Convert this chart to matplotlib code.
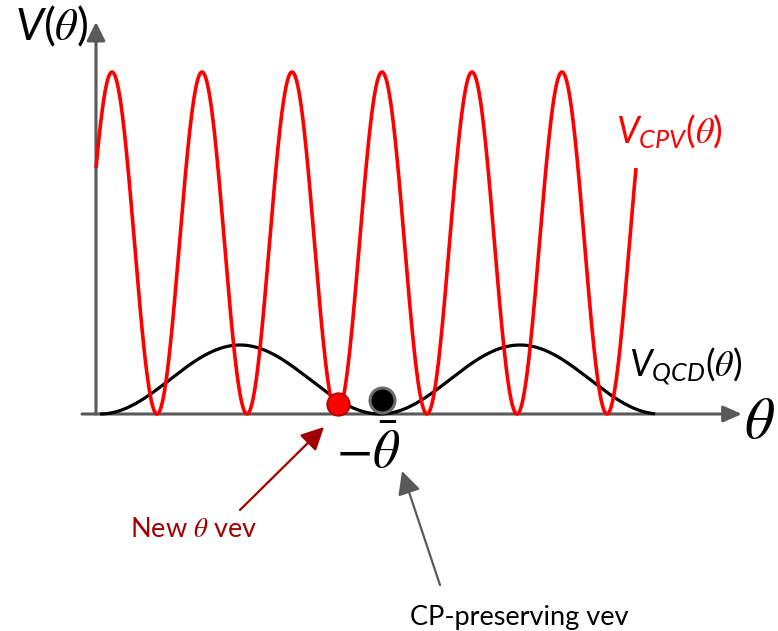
import numpy as np
import matplotlib
matplotlib.use("Agg")
import matplotlib.pyplot as plt

plt.rcParams['mathtext.fontset'] = 'custom'
plt.rcParams['mathtext.rm'] = 'Lato'
plt.rcParams['mathtext.it'] = 'Lato:italic'
plt.rcParams['mathtext.cal'] = 'STIXGeneral:italic'

# ---- data (theta measured from the origin, arbitrary units) ----
red_period = 90.0        # CP-violating potential period
red_peak_at = 16.0       # position of the first maximum
red_amp = 342.0
red_range = [0.0, 540.0]

qcd_period = 280.0       # QCD potential period
qcd_min_at = 284.0       # CP-preserving minimum (-theta_bar)
qcd_amp = 69.0
qcd_range = [4.0, 559.0]

new_vev = [242.0, 10.0]  # new theta vev (red dot)
cp_vev = [286.0, 14.0]   # CP-preserving vev (black dot)

theta_red = np.linspace(red_range[0], red_range[1], 1500)
v_cpv = red_amp * (1 + np.cos(2 * np.pi * (theta_red - red_peak_at) / red_period)) / 2
theta_qcd = np.linspace(qcd_range[0], qcd_range[1], 1000)
v_qcd = qcd_amp * (1 - np.cos(2 * np.pi * (theta_qcd - qcd_min_at) / qcd_period)) / 2

fig = plt.figure(figsize=(7.78, 6.31), dpi=100)
ax = fig.add_axes([0, 0, 1, 1])
ax.set_xlim(-96, 682)
ax.set_ylim(-217, 414)
ax.axis('off')

gray = '#595959'
# axes with arrows
ax.annotate('', xy=(646, 0), xytext=(-14, 0),
            arrowprops=dict(arrowstyle='-|>,head_length=0.8,head_width=0.35', color=gray,
                            lw=2.2, mutation_scale=14, shrinkA=0, shrinkB=0), zorder=1)
ax.annotate('', xy=(0, 392), xytext=(0, 0),
            arrowprops=dict(arrowstyle='-|>,head_length=0.8,head_width=0.4', color=gray,
                            lw=2.2, mutation_scale=14, shrinkA=0, shrinkB=0), zorder=1)

ax.plot(theta_qcd, v_qcd, color='black', lw=2.3, zorder=2, solid_capstyle='butt')
ax.plot(theta_red, v_cpv, color='#FF0000', lw=2.6, zorder=3, solid_capstyle='butt')

ax.plot(*new_vev, 'o', ms=16, mfc='#FF0000', mec='#C00000', mew=1.5, zorder=5)
ax.plot(*cp_vev, 'o', ms=18, mfc='black', mec='#6b6b6b', mew=2.2, zorder=5)

# labels
ax.text(-81, 374, r'$V(\mathcal{\theta})$', fontsize=32, va='baseline', ha='left')
ax.text(520, 271, r'$V_{CPV}(\mathcal{\theta})$', fontsize=26, color='#FF0000',
        va='baseline', ha='left')
ax.text(533, 37, r'$V_{QCD}(\mathcal{\theta})$', fontsize=26, color='black',
        va='baseline', ha='left')
ax.text(648, -24, r'$\theta$', fontsize=42, math_fontfamily='stix', va='baseline', ha='left')
ax.text(240, -54, r'$-\bar{\theta}$', fontsize=38, math_fontfamily='stix', va='baseline', ha='left')

darkred = '#A00000'
ax.annotate('', xy=(228, -13), xytext=(144, -96),
            arrowprops=dict(arrowstyle='-|>,head_length=1.0,head_width=0.5', color=darkred,
                            lw=1.6, mutation_scale=14, shrinkA=0, shrinkB=0))
ax.text(34, -123, r'New $\mathcal{\theta}$ vev', fontsize=19.5, family='Lato', color=darkred,
        va='baseline', ha='left')

ax.annotate('', xy=(306, -57), xytext=(344, -171),
            arrowprops=dict(arrowstyle='-|>,head_length=1.0,head_width=0.5', color=gray,
                            lw=1.6, mutation_scale=14, shrinkA=0, shrinkB=0))
ax.text(314, -211, 'CP-preserving vev', fontsize=19.5, family='Lato', color='black',
        va='baseline', ha='left')

fig.savefig('out.png', dpi=100)
